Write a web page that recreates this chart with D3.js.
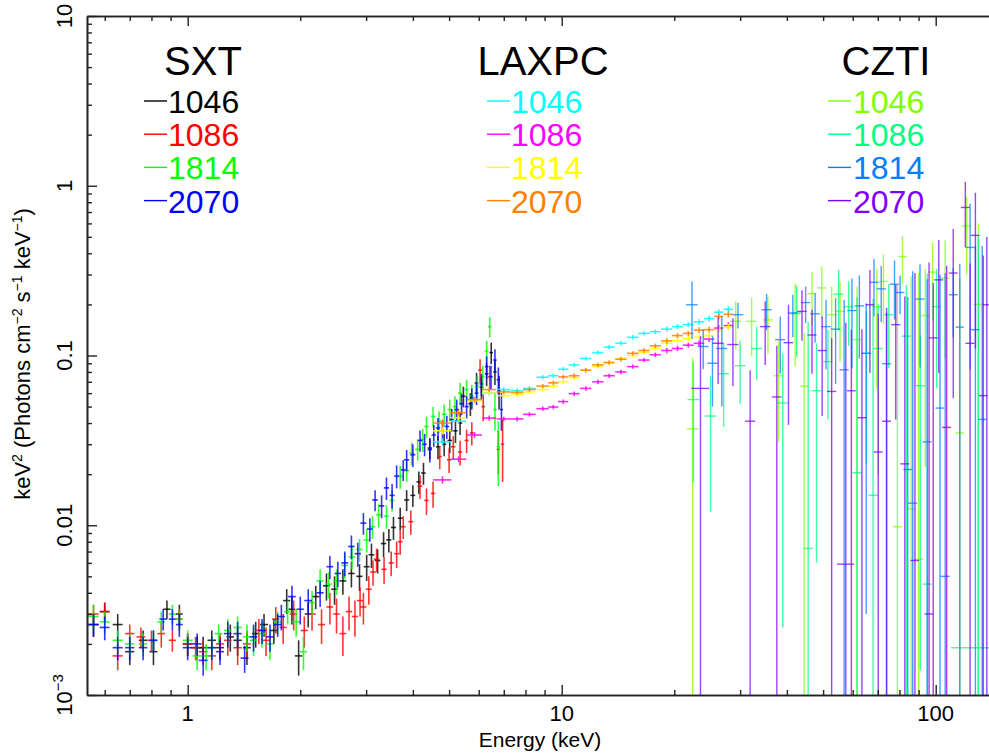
<!DOCTYPE html>
<html><head><meta charset="utf-8">
<script src="https://cdn.jsdelivr.net/npm/d3@7"></script>
<style>body{margin:0;background:#fff}svg{display:block}text{font-family:"Liberation Sans",Arial,Helvetica,sans-serif}</style>
</head><body><svg id="c" width="989" height="755"></svg>
<script>
// ---------- categories / labels ----------
const instruments = ["SXT", "LAXPC", "CZTI"];
const obsIds = ["1046", "1086", "1814", "2070"];
const xTickValues = [1, 10, 100];
const xTickLabels = ["1", "10", "100"];
const yTickValues = [0.001, 0.01, 0.1, 1, 10];
const yTickLabels = [["10", "\u22123"], ["0.01"], ["0.1"], ["1"], ["10"]];

// ---------- SXT data: [E keV, halfwidth keV, flux, flux error] ----------
const sxt1046 = [
[0.56,0.018,0.0026,0.0004],[0.60,0.018,0.0031,0.0004],[0.65,0.02,0.0026,0.0004],[0.70,0.02,0.0018,0.0003],
[0.76,0.02,0.0021,0.0003],[0.81,0.02,0.0018,0.0003],[0.88,0.02,0.0032,0.0004],[0.95,0.02,0.0030,0.0004],
[1.00,0.03,0.0020,0.0003],[1.06,0.03,0.0019,0.0003],[1.10,0.03,0.0019,0.0003],[1.16,0.03,0.0021,0.0003],
[1.22,0.03,0.0019,0.0003],[1.30,0.03,0.0022,0.0004],[1.36,0.035,0.0021,0.0004],[1.44,0.035,0.0019,0.0004],
[1.52,0.035,0.0023,0.0004],[1.60,0.04,0.0026,0.0004],[1.70,0.04,0.0024,0.0004],[1.84,0.04,0.0036,0.0006],
[1.90,0.04,0.0032,0.0006],[1.98,0.045,0.0017,0.0004],[2.10,0.045,0.0030,0.0005],[2.20,0.05,0.0038,0.0006],
[2.35,0.05,0.0044,0.0008],[2.47,0.05,0.0042,0.0008],[2.60,0.055,0.0047,0.0008],[2.74,0.055,0.0052,0.0009],
[2.88,0.055,0.0050,0.0009],[3.01,0.055,0.0057,0.001],[3.10,0.055,0.0067,0.0011],[3.22,0.055,0.0062,0.001],
[3.34,0.055,0.0078,0.0013],[3.45,0.055,0.0082,0.0013],[3.55,0.055,0.0097,0.0015],[3.70,0.055,0.0110,0.0017],
[3.85,0.06,0.0141,0.002],[4.00,0.06,0.0150,0.0022],[4.15,0.06,0.018,0.0027],[4.27,0.06,0.0203,0.003],
[4.44,0.06,0.0285,0.004],[4.67,0.06,0.029,0.0045],[4.85,0.06,0.030,0.0045],[5.02,0.07,0.0316,0.005],
[5.20,0.07,0.036,0.0055],[5.35,0.07,0.040,0.006],[5.46,0.07,0.0575,0.008],[5.70,0.07,0.052,0.008],
[5.92,0.07,0.069,0.01],[6.10,0.07,0.065,0.01],[6.30,0.07,0.078,0.012],[6.48,0.07,0.104,0.015],
[6.63,0.07,0.080,0.013],[6.80,0.07,0.062,0.014]
];
const sxt1086 = [
[0.56,0.018,0.0030,0.0004],[0.60,0.018,0.0031,0.0004],[0.65,0.02,0.0017,0.0003],[0.70,0.02,0.0023,0.0003],
[0.75,0.02,0.0022,0.0003],[0.80,0.02,0.0021,0.0003],[0.85,0.02,0.0023,0.0004],[0.91,0.02,0.0021,0.0003],
[0.95,0.02,0.0028,0.0004],[1.00,0.03,0.0020,0.0003],[1.05,0.03,0.0019,0.0003],[1.10,0.03,0.0018,0.0003],
[1.16,0.03,0.0017,0.0003],[1.22,0.03,0.0020,0.0003],[1.28,0.03,0.0021,0.0004],[1.36,0.035,0.0019,0.0004],
[1.44,0.035,0.0020,0.0004],[1.55,0.035,0.0024,0.0004],[1.62,0.04,0.0021,0.0004],[1.72,0.04,0.0028,0.0005],
[1.80,0.04,0.0025,0.0005],[1.92,0.045,0.0030,0.0006],[2.05,0.045,0.0024,0.0005],[2.15,0.05,0.0030,0.0006],
[2.28,0.05,0.0026,0.0006],[2.40,0.05,0.0033,0.0007],[2.50,0.05,0.0030,0.0007],[2.60,0.055,0.0023,0.0006],
[2.70,0.055,0.0031,0.0007],[2.80,0.055,0.0029,0.0007],[2.89,0.055,0.0036,0.0007],[2.95,0.055,0.0033,0.0007],
[3.05,0.055,0.0042,0.0008],[3.13,0.055,0.0053,0.0009],[3.20,0.055,0.0063,0.001],[3.35,0.055,0.0055,0.001],
[3.50,0.055,0.0060,0.001],[3.62,0.055,0.0068,0.0012],[3.70,0.055,0.0080,0.0013],[3.77,0.055,0.0098,0.0015],
[3.95,0.06,0.0105,0.0017],[4.18,0.06,0.0170,0.0027],[4.35,0.06,0.0140,0.0025],[4.53,0.06,0.0154,0.0027],
[4.72,0.06,0.0254,0.004],[5.00,0.07,0.0243,0.004],[5.13,0.07,0.029,0.0045],[5.35,0.07,0.027,0.0045],
[5.57,0.07,0.0316,0.005],[5.75,0.07,0.035,0.0055],[6.05,0.07,0.082,0.013],[6.17,0.07,0.050,0.009],
[6.42,0.07,0.075,0.012],[6.77,0.07,0.028,0.008],[6.95,0.07,0.030,0.012]
];
const sxt1814 = [
[0.56,0.018,0.0029,0.0005],[0.60,0.018,0.0027,0.0004],[0.65,0.02,0.0021,0.0003],[0.70,0.02,0.0020,0.0003],
[0.76,0.02,0.0020,0.0003],[0.81,0.02,0.0021,0.0003],[0.85,0.02,0.0027,0.0004],[0.91,0.02,0.0030,0.0004],
[0.95,0.02,0.0028,0.0004],[1.00,0.03,0.0021,0.0003],[1.06,0.03,0.0017,0.0003],[1.12,0.03,0.0017,0.0003],
[1.16,0.03,0.0019,0.0003],[1.21,0.03,0.0023,0.0003],[1.28,0.03,0.0024,0.0004],[1.36,0.035,0.0025,0.0004],
[1.44,0.035,0.0022,0.0004],[1.50,0.035,0.0021,0.0004],[1.58,0.04,0.0023,0.0004],[1.66,0.04,0.0020,0.0004],
[1.74,0.04,0.0027,0.0004],[1.85,0.04,0.0031,0.0005],[1.95,0.045,0.0027,0.0005],[2.04,0.045,0.0018,0.0004],
[2.15,0.05,0.0035,0.0006],[2.26,0.05,0.0047,0.0008],[2.38,0.05,0.0045,0.0008],[2.50,0.05,0.0047,0.0008],
[2.63,0.055,0.0058,0.001],[2.75,0.055,0.0065,0.001],[2.88,0.055,0.0072,0.0011],[3.01,0.055,0.0082,0.0013],
[3.12,0.055,0.0098,0.0015],[3.24,0.055,0.0115,0.0018],[3.40,0.055,0.0113,0.0018],[3.52,0.055,0.0140,0.002],
[3.70,0.055,0.0194,0.003],[3.85,0.06,0.021,0.003],[3.97,0.06,0.0266,0.004],[4.12,0.06,0.028,0.004],
[4.25,0.06,0.032,0.005],[4.35,0.06,0.0382,0.0055],[4.53,0.06,0.0438,0.006],[4.70,0.06,0.041,0.006],
[4.85,0.07,0.045,0.0065],[5.02,0.07,0.048,0.007],[5.18,0.07,0.050,0.0075],[5.35,0.07,0.060,0.009],
[5.57,0.07,0.063,0.009],[5.75,0.07,0.058,0.009],[5.95,0.07,0.066,0.01],[6.15,0.07,0.075,0.012],
[6.30,0.07,0.106,0.016],[6.42,0.07,0.148,0.02],[6.63,0.07,0.048,0.012],[6.77,0.07,0.029,0.012]
];
const sxt2070 = [
[0.56,0.018,0.0026,0.0004],[0.60,0.018,0.0025,0.0004],[0.65,0.02,0.0019,0.0003],[0.70,0.02,0.0019,0.0003],
[0.76,0.02,0.0019,0.0003],[0.81,0.02,0.0021,0.0003],[0.86,0.02,0.0028,0.0004],[0.91,0.02,0.0028,0.0004],
[0.95,0.02,0.0026,0.0004],[1.00,0.03,0.0019,0.0003],[1.06,0.03,0.0020,0.0003],[1.10,0.03,0.0016,0.0003],
[1.16,0.03,0.0019,0.0003],[1.22,0.03,0.0018,0.0003],[1.28,0.03,0.0023,0.0004],[1.36,0.035,0.0023,0.0004],
[1.42,0.035,0.00165,0.0003],[1.50,0.035,0.0022,0.0004],[1.58,0.04,0.0024,0.0004],[1.66,0.04,0.0022,0.0004],
[1.74,0.04,0.0026,0.0004],[1.78,0.04,0.0029,0.0005],[1.90,0.045,0.0038,0.0006],[2.00,0.045,0.0032,0.0006],
[2.10,0.05,0.0036,0.0006],[2.26,0.05,0.0040,0.0007],[2.40,0.05,0.0057,0.0009],[2.52,0.05,0.0052,0.0009],
[2.63,0.055,0.0060,0.001],[2.74,0.055,0.0075,0.0012],[2.85,0.055,0.0068,0.0011],[2.95,0.055,0.0103,0.0015],
[3.07,0.055,0.0095,0.0015],[3.17,0.055,0.0141,0.002],[3.30,0.055,0.0130,0.002],[3.40,0.055,0.0166,0.0025],
[3.52,0.055,0.0150,0.0025],[3.62,0.055,0.0195,0.003],[3.77,0.055,0.0212,0.003],[3.85,0.06,0.0243,0.0035],
[4.00,0.06,0.026,0.004],[4.18,0.06,0.0316,0.0045],[4.30,0.06,0.030,0.0045],[4.44,0.06,0.0279,0.0045],
[4.55,0.06,0.034,0.005],[4.67,0.06,0.0374,0.0055],[4.80,0.06,0.036,0.0055],[4.93,0.07,0.0382,0.006],
[5.08,0.07,0.042,0.0065],[5.24,0.07,0.048,0.007],[5.40,0.07,0.052,0.0075],[5.57,0.07,0.050,0.0075],
[5.75,0.07,0.056,0.008],[5.92,0.07,0.060,0.009],[6.10,0.07,0.068,0.01],[6.30,0.07,0.086,0.013],
[6.47,0.07,0.075,0.012],[6.63,0.07,0.094,0.015],[6.77,0.07,0.072,0.013],[6.90,0.07,0.048,0.012]
];

// ---------- LAXPC data: shared energy grid, per-observation flux ----------
const laxpcE  = [4.8,5.3,5.85,6.4,7.0,7.6,8.2,8.9,9.5,10.1,10.8,11.6,12.5,13.4,14.4,15.5,16.6,17.8,19.1,20.4,21.8,23.3,24.8,26.3,27.9];
const laxpcDE = [0.27,0.26,0.27,0.28,0.3,0.3,0.32,0.34,0.3,0.32,0.36,0.4,0.44,0.46,0.5,0.55,0.58,0.62,0.66,0.7,0.72,0.76,0.78,0.76,0.8];
const laxpcRelErr = [0.05,0.04,0.04,0.035,0.03,0.03,0.03,0.03,0.03,0.03,0.03,0.03,0.03,0.03,0.03,0.03,0.03,0.03,0.035,0.035,0.035,0.04,0.04,0.04,0.045];
const laxpc1046 = [0.031,0.041,0.055,0.060,0.063,0.062,0.064,0.0745,0.076,0.083,0.088,0.096,0.104,0.112,0.118,0.128,0.135,0.138,0.143,0.148,0.152,0.158,0.165,0.180,0.187];
const laxpc1086 = [0.0185,0.0245,0.034,0.0428,0.0423,0.0423,0.045,0.0486,0.0497,0.0535,0.0596,0.064,0.070,0.076,0.080,0.086,0.094,0.101,0.107,0.110,0.115,0.118,0.125,0.145,0.150];
const laxpc1814 = [0.036,0.043,0.054,0.060,0.058,0.059,0.061,0.063,0.066,0.070,0.074,0.082,0.086,0.090,0.096,0.100,0.104,0.110,0.118,0.122,0.126,0.128,0.131,0.142,0.147];
const laxpc2070 = [0.040,0.046,0.055,0.063,0.061,0.0606,0.063,0.066,0.069,0.0748,0.076,0.082,0.088,0.091,0.095,0.103,0.107,0.114,0.122,0.131,0.135,0.141,0.142,0.170,0.175];

// ---------- CZTI data: [E keV, halfwidth keV, flux, flux error] ----------
const czti1046 = [
[22.4,0.8,0.037,0.060],[29.2,1.0,0.159,0.05],[32.2,1.0,0.159,0.06],[35.6,1.1,0.162,0.06],[38.0,1.1,0.076,0.045],
[42.1,1.2,0.176,0.09],[44.5,1.2,0.066,0.07],[46.7,1.3,0.231,0.08],[49.6,1.4,0.25,0.085],[52.7,1.5,0.174,0.08],
[55.5,1.5,0.182,0.09],[61.6,1.7,0.124,0.13],[69.6,1.9,0.194,0.13],[72.5,2.0,0.273,0.12],[79.0,2.2,0.0098,0.25],
[81.5,2.2,0.383,0.12],[86.0,2.4,0.0125,0.28],[90.0,2.5,0.0063,0.30],[93.8,2.6,0.172,0.15],[98.1,2.7,0.31,0.15],
[106,3,0.286,0.19],[116,3,0.035,0.25],[121,3.5,0.58,0.28],[130,4,0.2,0.4]
];
const czti1086 = [
[22.5,0.8,0.055,0.037],[25.0,0.9,0.044,0.032],[27.1,0.9,0.078,0.04],[30.0,1.0,0.087,0.035],[33.2,1.1,0.11,0.038],
[39.0,1.2,0.0525,0.05],[42.5,1.2,0.178,0.08],[45.6,1.3,0.0073,0.15],[48.0,1.4,0.062,0.056],[51.5,1.5,0.092,0.05],
[55.0,1.6,0.23,0.09],[58.5,1.6,0.194,0.08],[61.6,1.7,0.0204,0.2],[65.2,1.8,0.103,0.08],[68.0,1.9,0.015,0.2],
[70.2,2.0,0.11,0.09],[74.9,2.1,0.174,0.09],[83.5,2.3,0.13,0.13],[91.0,2.5,0.0664,0.065],[95.0,2.6,0.0045,0.3],
[100.6,2.8,0.194,0.13],[130,20,0.0019,0.5]
];
const czti1814 = [
[22.3,0.8,0.199,0.074],[23.9,0.8,0.113,0.03],[25.3,0.8,0.090,0.04],[26.8,0.9,0.110,0.06],[29.6,1.0,0.174,0.03],
[35.3,1.1,0.186,0.045],[38.4,1.2,0.124,0.046],[41.5,1.2,0.178,0.05],[44.9,1.3,0.205,0.05],[47.6,1.4,0.176,0.057],
[50.9,1.5,0.148,0.065],[54.0,1.6,0.143,0.075],[56.9,1.6,0.0824,0.13],[59.7,1.7,0.184,0.1],[62.5,1.8,0.196,0.1],
[65.2,1.8,0.103,0.1],[68.4,1.9,0.27,0.1],[71.5,2.0,0.247,0.09],[73.9,2.0,0.0895,0.09],[77.6,2.2,0.263,0.1],
[80.3,2.2,0.235,0.06],[84.2,2.3,0.0213,0.2],[86.8,2.4,0.0135,0.3],[90.8,2.5,0.215,0.13],[94.9,2.6,0.031,0.25],
[102.7,2.8,0.049,0.25],[106,3,0.005,0.3],[111.4,3,0.228,0.1],[116,3,0.147,0.2],[123.6,3.5,0.433,0.35],
[127.7,3.5,0.142,0.3],[133.2,3.5,0.042,0.4]
];
const czti2070 = [
[23.5,1.3,0.064,0.066],[26.2,0.9,0.118,0.05],[28.7,1.0,0.116,0.05],[31.9,1.0,0.041,0.041],[35.0,1.1,0.148,0.06],
[37.6,1.1,0.057,0.057],[40.4,1.2,0.119,0.08],[43.9,1.3,0.182,0.06],[46.7,1.3,0.132,0.054],[49.7,1.4,0.107,0.063],
[52.7,1.5,0.0614,0.065],[57.5,3.0,0.0059,0.15],[59.5,1.6,0.062,0.08],[63.5,1.7,0.043,0.1],[66.7,1.8,0.199,0.12],
[70.2,1.9,0.027,0.15],[73.9,2.0,0.041,0.15],[78.2,2.2,0.152,0.11],[82.7,2.3,0.023,0.2],[88.0,2.4,0.0062,0.3],
[96.0,2.6,0.003,0.35],[98.5,2.7,0.127,0.14],[101.9,2.8,0.279,0.2],[107,3,0.0377,0.3],[111.4,3,0.306,0.25],
[120,3.3,0.745,0.31],[123.6,3.5,0.118,0.23],[127.7,3.5,0.51,0.4],[134,3.5,0.058,0.33],[137,3.5,0.199,0.3]
];

// ---------- styling ----------
const colors = {
  SXT:   ["#000000", "#ff0000", "#00ff00", "#0000ff"],
  LAXPC: ["#00ffff", "#ff00ff", "#ffff00", "#ff8000"],
  CZTI:  ["#80ff00", "#00ff80", "#0080ff", "#8000ff"]
};

const svg = d3.select("#c");
const L = 87, T = 16, B = 695, R = 1010;
const x = d3.scaleLog().domain([0.538, 158]).range([L, R]);
const y = d3.scaleLog().domain([0.001, 10]).range([B, T]);
const yMin = y.domain()[0];

svg.append("defs").append("clipPath").attr("id", "plotclip")
  .append("rect").attr("x", L).attr("y", T).attr("width", R - L).attr("height", B - T);

const plot = svg.append("g").attr("clip-path", "url(#plotclip)");

function drawSeries(rows, color, sw, op) {
  const g = plot.append("g").attr("stroke", color).attr("stroke-width", sw).attr("stroke-opacity", op).attr("fill", "none");
  g.selectAll("line.v").data(rows).join("line").attr("class", "v")
    .attr("x1", d => x(d[0])).attr("x2", d => x(d[0]))
    .attr("y1", d => y(d[2] + d[3]))
    .attr("y2", d => (d[2] - d[3] > yMin ? y(d[2] - d[3]) : B + 2));
  g.selectAll("line.h").data(rows).join("line").attr("class", "h")
    .attr("x1", d => x(d[0] - d[1])).attr("x2", d => x(d[0] + d[1]))
    .attr("y1", d => y(d[2])).attr("y2", d => y(d[2]));
}

[sxt1046, sxt1086, sxt1814, sxt2070].forEach((s, i) => drawSeries(s, colors.SXT[i], 1.6, 0.8));
[laxpc1046, laxpc1086, laxpc1814, laxpc2070].forEach((f, i) => {
  const rows = laxpcE.map((e, k) => [e, laxpcDE[k], f[k], f[k] * laxpcRelErr[k]]);
  drawSeries(rows, colors.LAXPC[i], 1.6, 0.85);
});
[czti1046, czti1086, czti1814, czti2070].forEach((s, i) => drawSeries(s, colors.CZTI[i], 1.4, 0.75));

// ---------- axes ----------
function minorVals(lo, hi) {
  const out = [];
  for (let p = Math.floor(Math.log10(lo)); p <= Math.ceil(Math.log10(hi)); p++)
    for (let m = 2; m <= 9; m++) { const v = m * Math.pow(10, p); if (v >= lo && v <= hi) out.push(v); }
  return out;
}
const axStyle = g => { g.selectAll("path").attr("stroke", "#222").attr("stroke-width", 1.6);
  g.selectAll("line").attr("stroke", "#222").attr("stroke-width", 1.4); g.selectAll("text").remove(); };

const xMinor = minorVals(0.538, 158);
const yMinor = minorVals(0.001, 10);
svg.append("g").attr("transform", `translate(0,${B})`).call(d3.axisBottom(x).tickValues(xTickValues).tickSize(-10).tickSizeOuter(0)).call(axStyle);
svg.append("g").attr("transform", `translate(0,${B})`).call(d3.axisBottom(x).tickValues(xMinor).tickSize(-5).tickSizeOuter(0)).call(axStyle);
svg.append("g").attr("transform", `translate(0,${T})`).call(d3.axisTop(x).tickValues(xTickValues).tickSize(-10).tickSizeOuter(0)).call(axStyle);
svg.append("g").attr("transform", `translate(0,${T})`).call(d3.axisTop(x).tickValues(xMinor).tickSize(-5).tickSizeOuter(0)).call(axStyle);
svg.append("g").attr("transform", `translate(${L},0)`).call(d3.axisLeft(y).tickValues(yTickValues).tickSize(-10).tickSizeOuter(0)).call(axStyle);
svg.append("g").attr("transform", `translate(${L},0)`).call(d3.axisLeft(y).tickValues(yMinor).tickSize(-5).tickSizeOuter(0)).call(axStyle);

// tick labels
xTickValues.forEach((v, i) => {
  svg.append("text").attr("x", x(v)).attr("y", 721).attr("text-anchor", "middle")
    .attr("font-size", 22).attr("fill", "#000").text(xTickLabels[i]);
});
yTickValues.forEach((v, i) => {
  const t = svg.append("text").attr("transform", `translate(72,${y(v)}) rotate(-90)`)
    .attr("text-anchor", "middle").attr("font-size", 22).attr("fill", "#000");
  const lab = yTickLabels[i];
  t.append("tspan").text(lab[0]);
  if (lab[1]) t.append("tspan").attr("dy", -9).attr("font-size", 15).text(lab[1]);
});

// axis titles
svg.append("text").attr("x", 540).attr("y", 747).attr("text-anchor", "middle")
  .attr("font-size", 21).attr("fill", "#000").text("Energy (keV)");
const yt = svg.append("text").attr("transform", "translate(30,354) rotate(-90)")
  .attr("text-anchor", "middle").attr("font-size", 22).attr("fill", "#000");
[["keV",0,22],["2",-8,14],[" (Photons cm",8,22],["\u22122",-8,14],[" s",8,22],["\u22121",-8,14],[" keV",8,22],["\u22121",-8,14],[")",8,22]]
  .forEach(([s, dy, fs]) => yt.append("tspan").attr("dy", dy).attr("font-size", fs).text(s));

// ---------- legend ----------
const legHeadX = [203, 543, 886];
const legDash = [[144, 167], [487, 510], [828, 851]];
const legNumX = [168, 511, 853];
instruments.forEach((ins, i) => {
  svg.append("text").attr("x", legHeadX[i]).attr("y", 75).attr("text-anchor", "middle")
    .attr("font-size", 40).attr("fill", "#000").text(ins);
  obsIds.forEach((id, j) => {
    const by = 113 + j * 33.2;
    svg.append("line").attr("x1", legDash[i][0]).attr("x2", legDash[i][1]).attr("y1", by - 12).attr("y2", by - 12)
      .attr("stroke", colors[ins][j]).attr("stroke-width", 1.4);
    svg.append("text").attr("x", legNumX[i]).attr("y", by).attr("font-size", 32)
      .attr("fill", colors[ins][j]).text(id);
  });
});
</script></body></html>
